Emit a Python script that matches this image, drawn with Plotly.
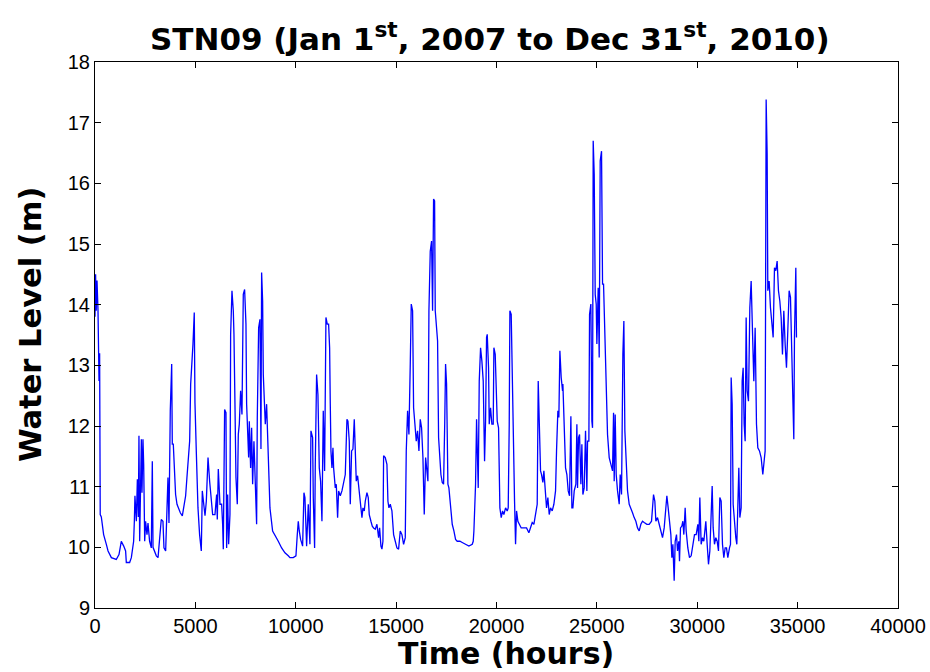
import plotly.graph_objects as go

# Hourly water level at STN09 (hours, metres)
time_hours = [
    0, 30, 60, 100, 150, 200, 230, 260, 315, 430, 565, 650, 815, 1060, 1195, 1310, 1430, 1525, 1560, 1725,
    1810, 1860, 1925, 1960, 1990, 2060, 2110, 2160, 2190, 2225, 2275, 2310, 2340, 2390, 2425, 2475, 2520, 2590,
    2640, 2720, 2805, 2855, 2890, 2970, 3055, 3140, 3220, 3300, 3385, 3435, 3520, 3585, 3635, 3685, 3750, 3820,
    3850, 3900, 3970, 4015, 4085, 4150, 4250, 4350, 4415, 4515, 4580, 4650, 4715, 4765, 4815, 4880, 4945, 4980,
    5045, 5130, 5210, 5295, 5345, 5410, 5480, 5545, 5630, 5710,
    5777, 5860, 5976, 6059, 6092, 6142, 6225, 6308, 6358, 6391, 6457, 6524, 6557, 6607, 6657, 6723, 6756, 6823,
    6889, 6922, 6972, 7022, 7088, 7138, 7188, 7254, 7321, 7387, 7453, 7520, 7553, 7603, 7653, 7686, 7752, 7802,
    7852, 7918, 7985, 8051, 8084, 8151, 8217, 8267, 8300, 8350, 8383, 8433, 8483, 8549, 8632, 8715, 8848, 8964,
    9130, 9296, 9462, 9628, 9711, 9877, 10010, 10076, 10126, 10176, 10242, 10342, 10408, 10458, 10541, 10624,
    10707, 10757, 10840, 10873, 10939, 10973, 11039, 11105, 11139, 11172, 11238, 11305, 11371, 11437, 11504, 11570,
    11637, 11687, 11720, 11753, 11803, 11853, 11886, 11969, 12019, 12085, 12135, 12218, 12301, 12384, 12467, 12550,
    12600, 12666, 12716, 12782, 12849, 12915, 12965, 13015, 13081, 13131, 13214, 13297, 13347, 13413, 13463, 13546,
    13612, 13662, 13745, 13812, 13878, 13961, 14044, 14127, 14177, 14243, 14293, 14343, 14376, 14459, 14542, 14592,
    14642, 14708, 14791, 14874, 14957, 15040, 15123, 15206, 15289, 15372, 15455, 15505, 15571, 15638, 15704, 15754,
    15820, 15870, 15936, 16003, 16069, 16136, 16202, 16268, 16335, 16401, 16468, 16534, 16584, 16634, 16700, 16766,
    16816, 16866, 16916, 16949, 16999, 17065, 17115, 17165, 17231, 17298, 17364, 17420, 17463, 17513,
    17579, 17629, 17712, 17795, 17878, 17961, 18044, 18177, 18293, 18459, 18625, 18791, 18841, 18874, 18957, 19007,
    19040, 19090, 19140, 19206, 19272, 19339, 19405, 19455, 19505, 19538, 19604, 19638, 19704, 19770, 19837, 19870,
    19936, 19986, 20036, 20102, 20169, 20235, 20302, 20368, 20451, 20534, 20584, 20634, 20667, 20733, 20783, 20833,
    20899, 20949, 20999, 21065, 21132, 21231, 21364, 21497, 21613, 21696, 21779, 21862, 21945, 22028, 22078, 22128,
    22194, 22244, 22310, 22360, 22426, 22493, 22559, 22626, 22692, 22775, 22858, 22941, 22991, 23057, 23107, 23157,
    23223, 23290,
    23307, 23373, 23439, 23506, 23572, 23639, 23705, 23755, 23805, 23871, 23954, 24004, 24037, 24087, 24137, 24203,
    24253, 24303, 24369, 24435, 24502, 24535, 24601, 24635, 24701, 24751, 24784, 24817, 24867, 24917, 24967, 25000,
    25066, 25116, 25166, 25232, 25282, 25332, 25398, 25465, 25531, 25614, 25697, 25780, 25830, 25863, 25913, 25963,
    26029, 26112, 26162, 26228, 26295, 26344, 26394, 26444, 26527, 26610, 26693, 26776, 26859, 26942, 27025, 27108,
    27191, 27274, 27357, 27490, 27606, 27722, 27822, 27888, 27938, 28021, 28104, 28187, 28270, 28353, 28436, 28486,
    28552, 28619, 28685, 28735, 28785, 28851, 28901, 28967, 29017, 29083,
    29116, 29166, 29232, 29282, 29332, 29398, 29448, 29531, 29614, 29697, 29780, 29863, 29946, 30029, 30079, 30129,
    30195, 30261, 30328, 30361, 30427, 30494, 30560, 30627, 30693, 30743, 30793, 30859, 30925, 30992, 31058, 31125,
    31191, 31257, 31324, 31390, 31457, 31523, 31606, 31656, 31689, 31739, 31789, 31855, 31921, 31971, 32021, 32071,
    32121, 32187, 32237, 32287, 32336, 32386, 32436, 32486, 32552, 32619, 32685, 32751, 32818, 32884, 32951, 33017,
    33100, 33183, 33266, 33316, 33382, 33432, 33482, 33515, 33581, 33648, 33714, 33781, 33847, 33913, 33980, 34046,
    34113, 34179, 34245, 34312, 34378, 34445, 34511, 34577, 34644, 34710, 34760, 34810, 34843, 34910, 34943,
]

water_level_m = [
    13.8, 14.5, 13.9, 14.4, 13.9, 12.74, 13.2, 10.54, 10.5, 10.21, 10.05, 9.94, 9.83, 9.80, 9.88, 10.10, 10.02, 9.94, 9.75, 9.75,
    9.83, 9.99, 10.10, 10.43, 10.85, 10.43, 11.12, 10.5, 11.84, 10.10, 11.5, 11.78, 10.9, 11.78, 11.37, 10.10, 10.43, 10.21,
    10.4, 10.10, 9.99, 11.42, 10.0, 9.94, 9.86, 9.83, 10.10, 10.46, 10.43, 9.99, 9.94, 10.63, 11.15, 10.4, 12.25, 13.02,
    11.70, 11.70, 11.31, 10.87, 10.71, 10.65, 10.57, 10.52, 10.63, 10.85, 11.15, 11.48, 11.75, 12.69, 12.96, 13.35, 13.87, 12.38,
    11.59, 10.65, 10.21, 9.94, 10.93, 10.76, 10.52, 10.76, 11.48, 11.09,
    10.79, 10.54, 10.54, 10.87, 10.46, 11.29, 10.71, 10.71, 10.38, 9.97, 12.27, 12.22, 9.99, 10.87, 10.05, 10.54, 13.51, 14.23,
    13.90, 13.51, 12.36, 11.15, 10.71, 11.86, 12.03, 12.58, 12.19, 14.17, 14.25, 13.68, 12.36, 11.97, 11.48, 12.08, 11.31, 11.97,
    11.04, 11.75, 10.93, 10.38, 12.14, 13.62, 13.76, 11.62, 14.53, 14.06, 12.85, 12.41, 12.03, 12.36, 11.53, 10.65, 10.27, 10.19,
    10.10, 9.99, 9.91, 9.86, 9.83, 9.83, 9.86, 10.21, 10.43, 10.27, 10.13, 10.02, 10.90, 10.82, 10.02, 10.71,
    10.05, 11.92, 11.81, 10.82, 9.99, 11.37, 12.85, 12.52, 11.59, 11.31, 11.09, 10.43, 12.25, 11.26, 13.79, 13.68,
    13.68, 13.29, 12.36, 11.59, 11.31, 11.64, 11.31, 10.98, 11.04, 10.49, 10.93, 10.85, 10.93, 11.07, 11.20, 12.11,
    12.08, 11.75, 10.71, 11.59, 11.62, 12.11, 11.59, 11.09, 11.18, 11.01, 10.76, 10.49, 10.65, 10.60, 10.76, 10.90,
    10.82, 10.54, 10.43, 10.35, 10.32, 10.30, 10.38, 10.16, 10.32, 10.02, 9.97, 10.10, 11.51, 11.48, 11.37, 10.76,
    10.65, 10.71, 10.60, 10.21, 10.10, 9.99, 9.97, 10.27, 10.21, 10.05, 10.16, 11.59, 12.25, 11.86, 13.02, 14.01,
    13.90, 12.30, 12.03, 11.75, 11.92, 11.59, 12.11, 11.97, 11.48, 10.54, 11.48, 11.31, 11.09, 13.90, 14.88, 15.05,
    13.90, 15.74, 15.71, 13.90, 13.73, 13.40, 11.81, 11.48, 11.20, 11.07, 11.04, 12.03, 13.02, 12.69,
    11.04, 10.98, 10.71, 10.38, 10.27, 10.13, 10.10, 10.10, 10.08, 10.05, 10.02, 10.05, 10.10, 10.27, 11.04, 12.11,
    11.75, 10.98, 12.74, 13.29, 13.07, 12.74, 11.42, 12.08, 13.46, 13.51, 12.96, 12.03, 12.30, 12.03, 12.03, 13.29,
    13.18, 12.69, 12.08, 11.97, 10.65, 10.49, 10.60, 10.54, 10.65, 10.60, 10.65, 12.03, 13.90, 13.84, 12.80, 11.37,
    10.76, 10.05, 10.60, 10.43, 10.38, 10.32, 10.32, 10.32, 10.24, 10.32, 10.41, 10.38, 10.54, 10.71, 12.74, 11.86,
    11.26, 11.20, 11.07, 11.26, 10.87, 10.65, 10.82, 10.54, 10.65, 10.60, 10.71, 10.93, 11.59, 12.25, 12.14, 13.24,
    12.80, 12.58,
    12.69, 11.75, 11.31, 11.20, 10.93, 10.85, 12.16, 10.65, 10.65, 10.93, 11.04, 12.03, 10.98, 11.81, 11.86, 11.04,
    11.70, 10.87, 10.98, 11.92, 10.93, 11.75, 11.75, 13.84, 14.01, 12.08, 11.97, 16.70, 16.15, 14.17, 14.01, 13.35,
    14.28, 13.13, 16.37, 16.53, 14.34, 14.34, 13.40, 12.63, 11.86, 11.48, 11.37, 11.26, 12.22, 11.09, 12.19, 11.20,
    10.93, 10.71, 11.20, 10.87, 13.18, 13.73, 11.92, 11.48, 10.93, 10.71, 10.65, 10.57, 10.49, 10.43, 10.32, 10.27,
    10.38, 10.43, 10.41, 10.38, 10.38, 10.43, 10.87, 10.76, 10.43, 10.49, 10.38, 10.27, 10.16, 10.32, 10.60, 10.85,
    10.65, 10.38, 10.21, 9.83, 10.05, 9.45, 10.10, 10.21, 9.94, 10.10,
    9.77, 10.32, 10.35, 10.43, 10.21, 10.65, 10.27, 9.99, 9.83, 9.86, 10.05, 10.21, 10.21, 10.38, 10.10, 10.82,
    10.05, 10.16, 10.10, 10.27, 10.43, 10.05, 9.72, 9.94, 10.49, 11.01, 10.32, 10.05, 10.16, 10.10, 9.94, 10.82,
    10.76, 10.05, 9.83, 9.99, 9.99, 9.83, 9.99, 10.05, 12.80, 12.36, 10.71, 10.38, 10.16, 10.05, 10.82, 11.31,
    10.49, 10.65, 12.74, 12.96, 12.03, 11.75, 13.79, 12.58, 12.41, 13.95, 14.39, 13.68, 12.74, 13.62, 12.03, 11.64,
    11.59, 11.48, 11.20, 11.37, 11.59, 17.38, 16.48, 14.23, 14.39, 13.95, 13.73, 13.46, 14.61, 14.56, 14.72, 14.23,
    14.06, 13.79, 13.18, 13.90, 13.35, 12.96, 13.57, 14.23, 14.12, 13.24, 12.30, 11.78, 13.46, 14.61, 13.46,
]

x_ticks = [0, 5000, 10000, 15000, 20000, 25000, 30000, 35000, 40000]
y_ticks = [9, 10, 11, 12, 13, 14, 15, 16, 17, 18]

title_text = "<b>STN09 (Jan 1<sup>st</sup>, 2007 to Dec 31<sup>st</sup>, 2010)</b>"
x_label = "<b>Time (hours)</b>"
y_label = "<b>Water Level (m)</b>"

fig = go.Figure()
fig.add_trace(go.Scatter(
    x=time_hours, y=water_level_m, mode="lines",
    line=dict(color="rgb(0,0,255)", width=1.3),
    showlegend=False, hoverinfo="x+y",
))

tick_font = dict(family="Liberation Sans, Arial, sans-serif", size=20, color="black")
axis_common = dict(
    showline=True, linecolor="black", linewidth=1, mirror="ticks",
    ticks="inside", ticklen=6, tickwidth=1, tickcolor="black",
    showgrid=False, zeroline=False, tickfont=tick_font, automargin=False,
)

fig.update_layout(
    width=930, height=672,
    margin=dict(l=95, r=32, t=62, b=64),
    paper_bgcolor="white", plot_bgcolor="white",
    xaxis=dict(range=[0, 40000], tickvals=x_ticks, ticktext=[str(v) for v in x_ticks], **axis_common),
    yaxis=dict(range=[9, 18], tickvals=y_ticks, ticktext=[str(v) for v in y_ticks], **axis_common),
    annotations=[
        dict(text=title_text, xref="paper", yref="paper", x=0.492, y=1.046,
             xanchor="center", yanchor="middle", showarrow=False,
             font=dict(family="DejaVu Sans, sans-serif", size=31, color="black")),
        dict(text=x_label, xref="paper", yref="paper", x=0.512, y=-0.084,
             xanchor="center", yanchor="middle", showarrow=False,
             font=dict(family="DejaVu Sans, sans-serif", size=30, color="black")),
        dict(text=y_label, xref="paper", yref="paper", x=-0.081, y=0.52,
             xanchor="center", yanchor="middle", showarrow=False, textangle=-90,
             font=dict(family="DejaVu Sans, sans-serif", size=30.5, color="black")),
    ],
)

fig.write_html("out.html")
